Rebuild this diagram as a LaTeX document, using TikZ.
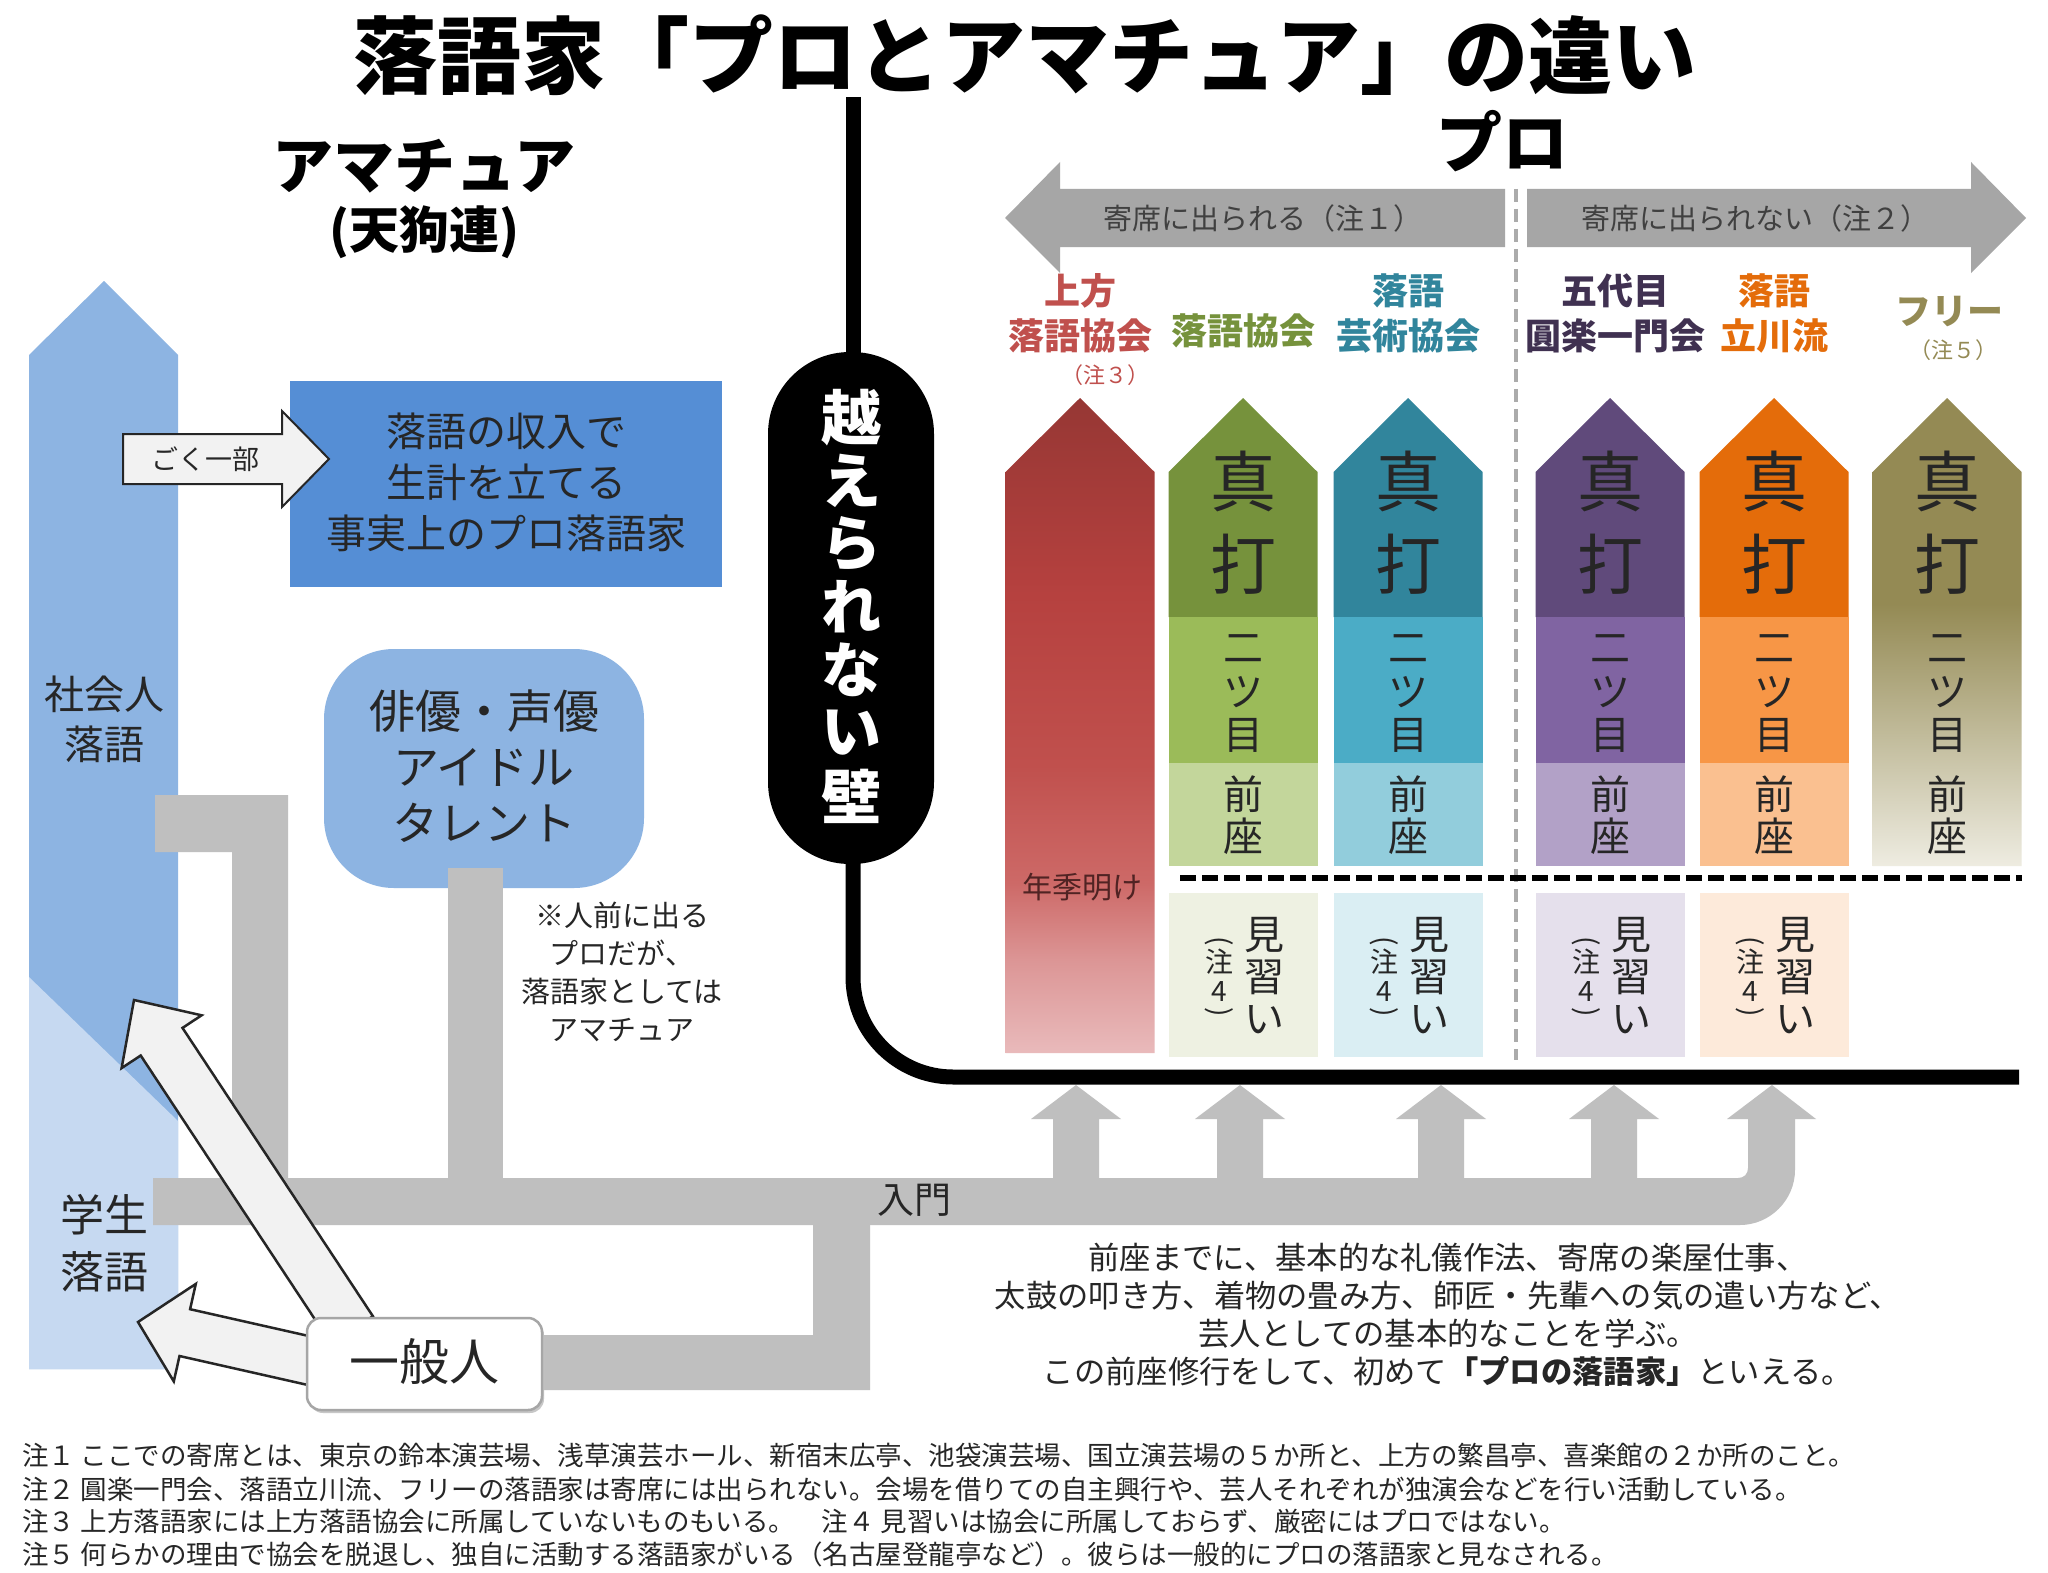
\documentclass[tikz,border=0pt]{standalone}
\usepackage{fontspec}
\setmainfont{Noto Sans CJK JP}
\usetikzlibrary{calc}
\definecolor{bluecol}{HTML}{8DB4E2}
\definecolor{bluelight}{HTML}{C6D9F1}
\definecolor{bluerect}{HTML}{558ED5}
\definecolor{bar}{HTML}{BFBFBF}
\definecolor{arrgray}{HTML}{A6A6A6}
\definecolor{dashgray}{HTML}{ABABAB}
\definecolor{txt}{HTML}{262626}
\definecolor{arrfill}{HTML}{F2F2F2}
\definecolor{arrline}{HTML}{262626}
\definecolor{boxgray}{HTML}{A6A6A6}
\definecolor{redlabel}{HTML}{C0504D}
\definecolor{greenlabel}{HTML}{76923C}
\definecolor{teallabel}{HTML}{31859C}
\definecolor{purplelabel}{HTML}{403151}
\definecolor{orangelabel}{HTML}{E46C0A}
\definecolor{khakilabel}{HTML}{948A54}
\definecolor{g1}{HTML}{76923C}\definecolor{g2}{HTML}{9BBB59}\definecolor{g3}{HTML}{C3D69B}\definecolor{g4}{HTML}{EEF1E2}
\definecolor{t1}{HTML}{31859C}\definecolor{t2}{HTML}{4BACC6}\definecolor{t3}{HTML}{92CDDC}\definecolor{t4}{HTML}{DAEEF3}
\definecolor{p1}{HTML}{604A7B}\definecolor{p2}{HTML}{8064A2}\definecolor{p3}{HTML}{B2A1C7}\definecolor{p4}{HTML}{E5E0EC}
\definecolor{o1}{HTML}{E46C0A}\definecolor{o2}{HTML}{F79646}\definecolor{o3}{HTML}{FAC090}\definecolor{o4}{HTML}{FDEADA}
\definecolor{k1}{HTML}{948A54}\definecolor{k4}{HTML}{EEECE1}
\definecolor{rtop}{RGB}{150,55,52}
\definecolor{rmid}{RGB}{182,65,63}
\definecolor{rmid2}{RGB}{192,80,77}
\definecolor{rlm}{RGB}{205,105,103}
\definecolor{rlow}{RGB}{220,150,150}
\definecolor{rbot}{RGB}{233,186,187}
\definecolor{nenki}{RGB}{80,35,35}
\pgfdeclareverticalshading{redcol}{100bp}{color(0bp)=(rbot); color(25bp)=(rbot); color(32bp)=(rlow); color(38bp)=(rlm); color(47bp)=(rmid2); color(60bp)=(rmid); color(75bp)=(rtop); color(100bp)=(rtop)}
\pgfdeclareverticalshading{khakicol}{100bp}{color(0bp)=(k4); color(25bp)=(k4); color(53bp)=(k1); color(100bp)=(k1)}
\newcommand\jfs[1]{\fontsize{#1}{#1}\selectfont}
\newcommand\jfsl[2]{\fontsize{#1}{#2}\selectfont}
\newcommand\pencil[3]{\path[#3] ({#1-74.5},#2) -- ({#1-74.5},472) -- (#1,398) -- ({#1+74.5},472) -- ({#1+74.5},#2) -- cycle;}
\newcommand\colsections[4]{%
  \fill[#2] ({#1-74.5},617) rectangle ({#1+74.5},763);
  \fill[#3] ({#1-74.5},763) rectangle ({#1+74.5},866);
  \fill[#4] ({#1-74.5},893) rectangle ({#1+74.5},1057);}
\newcommand\coltext[1]{%
  \node[font=\jfs{66}] (shin#1) at (#1,481) {真};
  \node[font=\jfs{66}] (uchi#1) at (#1,564) {打};
  \node[font=\jfs{40}] (ni#1) at (#1,649) {二};
  \node[font=\jfs{40}] (tsu#1) at (#1,692) {ツ};
  \node[font=\jfs{40}] (me#1) at (#1,735) {目};
  \node[font=\jfs{40}] (mae#1) at (#1,794) {前};
  \node[font=\jfs{40}] (za#1) at (#1,836) {座};}
\newcommand\minarai[1]{%
  \node[font=\jfs{40}] (mi#1) at ({#1+21},935) {見};
  \node[font=\jfs{40}] (nara#1) at ({#1+21},977) {習};
  \node[font=\jfs{40}] (i#1) at ({#1+21},1020) {い};
  \node[font=\jfs{28},rotate=-90] (pa#1) at ({#1-24},941) {(};
  \node[font=\jfs{28}] (chu#1) at ({#1-24},962) {注};
  \node[font=\jfs{28}] (four#1) at ({#1-24},992) {4};
  \node[font=\jfs{28},rotate=-90] (pb#1) at ({#1-24},1012) {)};}
\newcommand\uparr[1]{\fill[bar] ({#1-23},1180) -- ({#1-23},1119) -- ({#1-45},1119) -- (#1,1085) -- ({#1+45},1119) -- ({#1+23},1119) -- ({#1+23},1180) -- cycle;}
\begin{document}
\begin{tikzpicture}[x=1pt,y=-1pt,every node/.style={inner sep=0pt,outer sep=0pt,text=txt},
  whitearrow/.style={fill=arrfill,draw=arrline,line width=2.5pt,line join=miter}]
\fill[white] (0,0) rectangle (2048,1573);
\useasboundingbox (0,0) rectangle (2048,1573);
% titles
\node[font=\jfs{84}\bfseries,text=black] (title) at (1025,55) {落語家「プロとアマチュア」の違い};
\node[font=\jfs{61}\bfseries,text=black] (ama) at (424,166) {アマチュア};
\node[font=\jfs{50}\bfseries,text=black] (tengu) at (424,232) {(天狗連)};
\node[font=\jfs{66}\bfseries,text=black] (pro) at (1502,141) {プロ};
% left column
\fill[bluecol] (29,1369) -- (29,355) -- (104,281) -- (178,355) -- (178,1369) -- cycle;
\fill[bluelight] (29,977) -- (178,1121) -- (178,1369) -- (29,1369) -- cycle;
\node[font=\jfsl{40}{50},align=center] (shakai) at (104,719) {社会人\\落語};
\node[font=\jfsl{44}{57},align=center] (gakusei) at (104,1243) {学生\\落語};
% blue rect
\fill[bluerect] (290,381) rectangle (722,587);
\node[font=\jfsl{40}{51},align=center] (income) at (506,482) {落語の収入で\\生計を立てる\\事実上のプロ落語家};
\draw[whitearrow,line width=2pt] (123,434) -- (282,434) -- (282,411) -- (329,459) -- (282,507) -- (282,484) -- (123,484) -- cycle;
\node[font=\jfs{27}] (goku) at (205,459) {ごく一部};
% rounded box
\fill[bluecol,rounded corners=70] (324,649) rectangle (644,888);
\node[font=\jfsl{46}{56},align=center] (haiyu) at (484,766) {俳優・声優\\アイドル\\タレント};
\node[font=\jfsl{29}{38},align=center] (note) at (622,972) {※人前に出る\\プロだが、\\落語家としては\\アマチュア};
% gray bars
\fill[bar] (155,795) -- (288,795) -- (288,1180) -- (232,1180) -- (232,852) -- (155,852) -- cycle;
\fill[bar] (448,868) rectangle (503,1180);
\fill[bar] (526,1335) -- (813,1335) -- (813,1222) -- (870,1222) -- (870,1390) -- (526,1390) -- cycle;
\fill[bar] (153,1178) -- (1738,1178) .. controls (1744,1178) and (1748,1174) .. (1748,1168) -- (1748,1119) -- (1727,1119) -- (1772,1085) -- (1816,1119) -- (1795,1119) -- (1795,1170) .. controls (1795,1200) and (1770,1225) .. (1740,1225) -- (153,1225) -- cycle;
\uparr{1076}\uparr{1240}\uparr{1441}\uparr{1614}
\node[font=\jfs{37}] (nyumon) at (914,1200) {入門};
% white arrows
\draw[whitearrow] (372.9,1316.2) -- (182.5,1027.9) -- (201.6,1015.3) -- (134,1000) -- (121.6,1068.1) -- (140.7,1055.5) -- (331.1,1343.8) -- cycle;
\draw[whitearrow] (320.3,1338.6) -- (190.1,1309.2) -- (195.8,1283.9) -- (138,1322) -- (173.8,1381.4) -- (179.5,1356.0) -- (309.7,1385.4) -- cycle;
\fill[black!22,rounded corners=14] (309,1321) rectangle (544,1413);
\draw[fill=white,draw=boxgray,line width=2.5pt,rounded corners=14] (307,1318) rectangle (542,1410);
\node[font=\jfs{50}] (ippan) at (424,1362) {一般人};
% wall
\draw[line width=15pt] (853,97) -- (853,360);
\fill[black,rounded corners=82] (768,352) rectangle (934,864);
\draw[line width=15pt] (853,855) -- (853,977) .. controls (853,1032) and (898,1077) .. (953,1077) -- (2019,1077);
\foreach \ch [count=\i] in {越,え,ら,れ,な,い,壁}
  \node[font=\jfs{60}\bfseries,text=white] (wall\i) at (851,{418+63*(\i-1)}) {\ch};
% top arrows
\fill[arrgray] (1005,218) -- (1060,162) -- (1060,189) -- (1505,189) -- (1505,247) -- (1060,247) -- (1060,273) -- cycle;
\fill[arrgray] (2026,218) -- (1971,162) -- (1971,189) -- (1527,189) -- (1527,247) -- (1971,247) -- (1971,273) -- cycle;
\node[font=\jfs{29},text=black!75] (yose1) at (1263,218) {寄席に出られる（注１）};
\node[font=\jfs{29},text=black!75] (yose2) at (1755,218) {寄席に出られない（注２）};
\draw[dashgray,line width=4pt,dash pattern=on 13pt off 7pt] (1516,189) -- (1516,1060);
% labels
\node[font=\jfsl{36}{45}\bfseries,text=redlabel,align=center] (kamigata) at (1080,313) {上方\\落語協会};
\node[font=\jfs{22},text=redlabel] (lab3) at (1105,375) {（注３）};
\node[font=\jfs{36}\bfseries,text=greenlabel] (kyokai) at (1243,331) {落語協会};
\node[font=\jfsl{36}{45}\bfseries,text=teallabel,align=center] (geijutsu) at (1408,313) {落語\\芸術協会};
\node[font=\jfsl{36}{45}\bfseries,text=purplelabel,align=center] (enraku) at (1615,313) {五代目\\圓楽一門会};
\node[font=\jfsl{36}{45}\bfseries,text=orangelabel,align=center] (tatekawa) at (1774,313) {落語\\立川流};
\node[font=\jfs{36}\bfseries,text=khakilabel] (free) at (1949,312) {フリー};
\node[font=\jfs{22},text=khakilabel] (lab5) at (1953,350) {（注５）};
% columns
\pencil{1080}{1053}{shade,shading=redcol}
\node[font=\jfs{30},text=nenki] (nenki) at (1082,887) {年季明け};
\pencil{1243}{617}{fill=g1}\colsections{1243}{g2}{g3}{g4}
\pencil{1408}{617}{fill=t1}\colsections{1408}{t2}{t3}{t4}
\pencil{1610}{617}{fill=p1}\colsections{1610}{p2}{p3}{p4}
\pencil{1774}{617}{fill=o1}\colsections{1774}{o2}{o3}{o4}
\pencil{1947}{866}{shade,shading=khakicol}
\coltext{1243}\coltext{1408}\coltext{1610}\coltext{1774}\coltext{1947}
\minarai{1243}\minarai{1408}\minarai{1610}\minarai{1774}
\draw[black,line width=6pt,dash pattern=on 16pt off 6pt] (1180,878) -- (2022,878);
% description
\node[font=\jfsl{31.3}{38},align=center] (desc) at (1448,1315) {前座までに、基本的な礼儀作法、寄席の楽屋仕事、\\太鼓の叩き方、着物の畳み方、師匠・先輩への気の遣い方など、\\芸人としての基本的なことを学ぶ。\\この前座修行をして、初めて{\bfseries 「プロの落語家」}といえる。};
% footnotes
\node[font=\jfs{26.5},anchor=west] (fn1) at (22,1456) {注１ ここでの寄席とは、東京の鈴本演芸場、浅草演芸ホール、新宿末広亭、池袋演芸場、国立演芸場の５か所と、上方の繁昌亭、喜楽館の２か所のこと。};
\node[font=\jfs{26.5},anchor=west] (fn2) at (22,1489) {注２ 圓楽一門会、落語立川流、フリーの落語家は寄席には出られない。会場を借りての自主興行や、芸人それぞれが独演会などを行い活動している。};
\node[font=\jfs{26.5},anchor=west] (fn3) at (22,1521) {注３ 上方落語家には上方落語協会に所属していないものもいる。　注４ 見習いは協会に所属しておらず、厳密にはプロではない。};
\node[font=\jfs{26.5},anchor=west] (fn4) at (22,1554) {注５ 何らかの理由で協会を脱退し、独自に活動する落語家がいる（名古屋登龍亭など）。彼らは一般的にプロの落語家と見なされる。};
\end{tikzpicture}
\end{document}
